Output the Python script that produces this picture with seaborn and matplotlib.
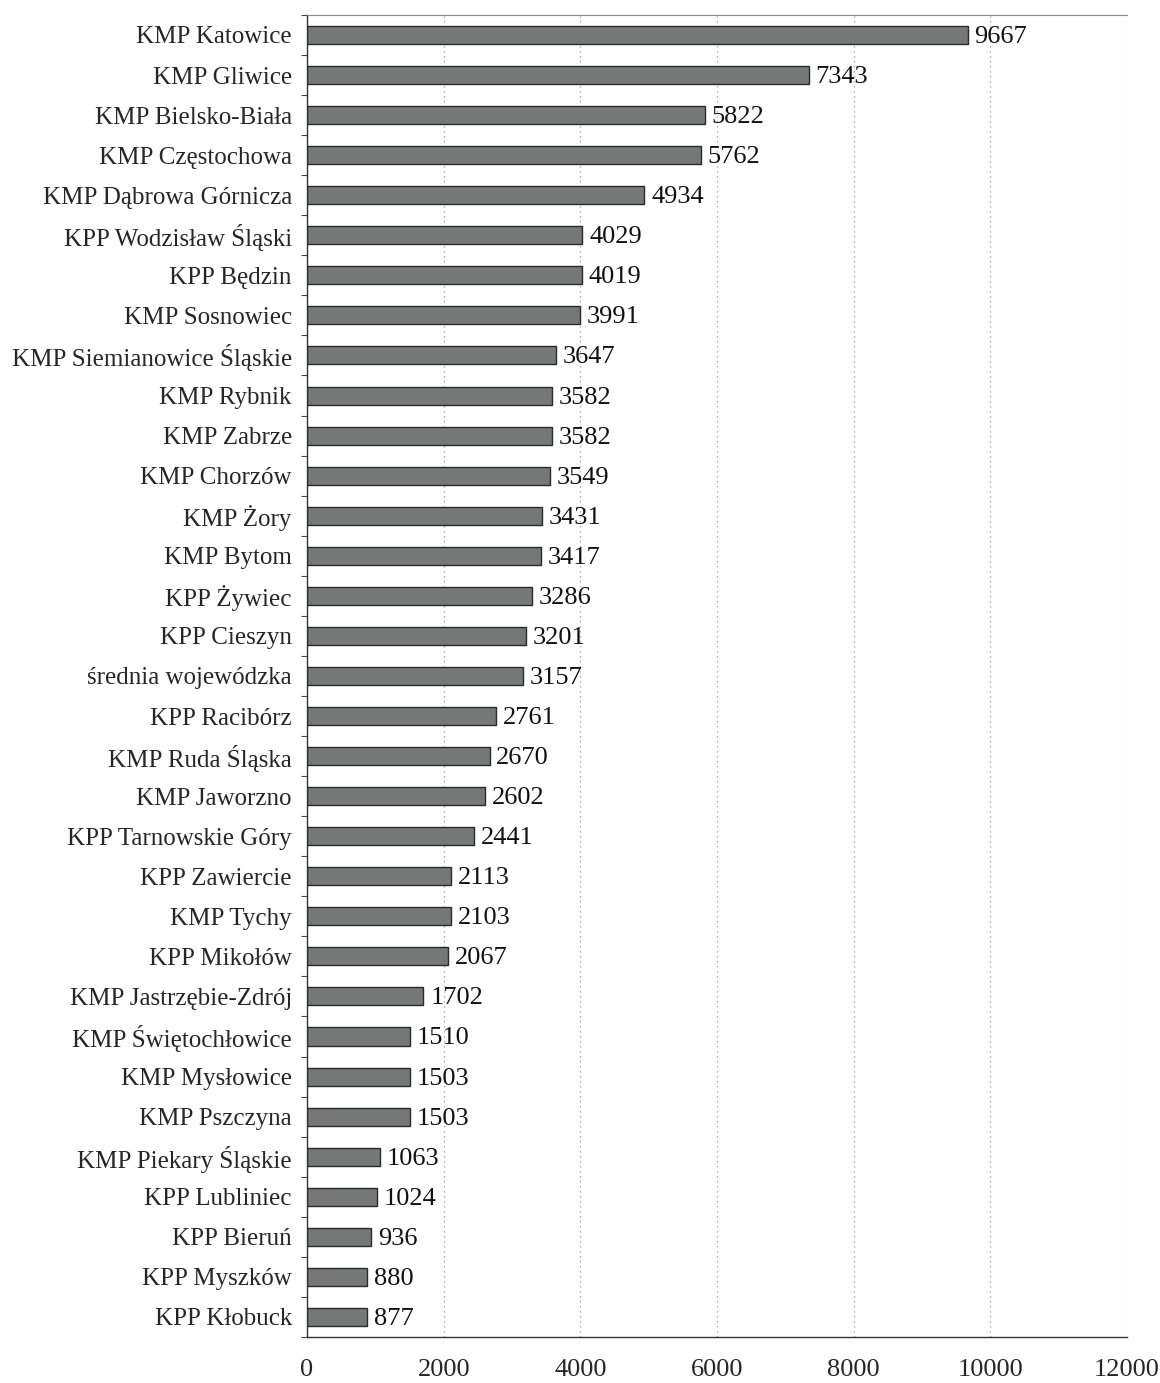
import matplotlib
matplotlib.use("Agg")
import matplotlib.pyplot as plt
import seaborn as sns
import pandas as pd
import numpy as np

categories = [
    "KMP Katowice", "KMP Gliwice", "KMP Bielsko-Biała", "KMP Częstochowa",
    "KMP Dąbrowa Górnicza", "KPP Wodzisław Śląski", "KPP Będzin", "KMP Sosnowiec",
    "KMP Siemianowice Śląskie", "KMP Rybnik", "KMP Zabrze", "KMP Chorzów",
    "KMP Żory", "KMP Bytom", "KPP Żywiec", "KPP Cieszyn", "średnia wojewódzka",
    "KPP Racibórz", "KMP Ruda Śląska", "KMP Jaworzno", "KPP Tarnowskie Góry",
    "KPP Zawiercie", "KMP Tychy", "KPP Mikołów", "KMP Jastrzębie-Zdrój",
    "KMP Świętochłowice", "KMP Mysłowice", "KMP Pszczyna", "KMP Piekary Śląskie",
    "KPP Lubliniec", "KPP Bieruń", "KPP Myszków", "KPP Kłobuck",
]
values = [
    9667, 7343, 5822, 5762, 4934, 4029, 4019, 3991, 3647, 3582, 3582, 3549,
    3431, 3417, 3286, 3201, 3157, 2761, 2670, 2602, 2441, 2113, 2103, 2067,
    1702, 1510, 1503, 1503, 1063, 1024, 936, 880, 877,
]
xticks = [0, 2000, 4000, 6000, 8000, 10000, 12000]

df = pd.DataFrame({"cat": categories, "val": values})

sns.set_theme(style="white")
plt.rcParams["font.family"] = ["Liberation Serif", "DejaVu Serif"]

fig = plt.figure(figsize=(11.6, 13.83), dpi=100)
ax = fig.add_axes([0.2647, 0.0333, 0.7069, 0.9559])

sns.barplot(data=df, x="val", y="cat", orient="h", color="#757876",
            saturation=1, width=0.45, edgecolor="#2a2a2a", linewidth=1.0, ax=ax)

for i, v in enumerate(values):
    ax.text(v + 100, i + 0.05, str(v), va="center", ha="left", fontsize=19, color="#111111")

ax.set_xlim(0, 12000)
ax.set_ylim(len(categories) - 0.5, -0.5)
ax.set_xticks(xticks)
ax.set_xticklabels([str(t) for t in xticks], fontsize=19)
ax.set_yticks(np.arange(len(categories) + 1) - 0.5, minor=True)
ax.tick_params(axis="y", which="major", labelsize=18, length=0, pad=11)
ax.tick_params(axis="y", which="minor", length=4, width=0.8, color="#444444", direction="out", left=True)
ax.tick_params(axis="x", length=0, pad=16)
ax.set_xlabel("")
ax.set_ylabel("")

ax.xaxis.grid(True, linestyle=(0, (1, 3)), color="#9a9a9a", linewidth=0.9)
ax.set_axisbelow(True)

for s in ["left", "bottom"]:
    ax.spines[s].set_visible(True)
    ax.spines[s].set_color("#333333")
    ax.spines[s].set_linewidth(1.0)
ax.spines["top"].set_color("#888888")
ax.spines["top"].set_linewidth(0.8)
ax.spines["right"].set_visible(False)

fig.savefig("out.png", dpi=100, facecolor="white")
